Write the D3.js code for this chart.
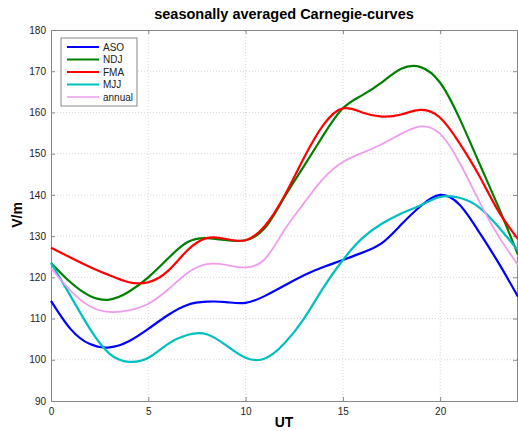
<!DOCTYPE html>
<html>
<head>
<meta charset="utf-8">
<script src="https://cdn.jsdelivr.net/npm/d3@7"></script>
<style>
  body { margin: 0; background: #fff; }
  text { font-family: Arial, "Liberation Sans", Helvetica, sans-serif; }
</style>
</head>
<body>
<div id="chart"></div>
<script>
// hours (UT) at which the curves were read
var hours = d3.range(0, 25);

var aso = [114.3, 107.5, 103.8, 103, 104.5, 107.5, 110.8, 113.3, 114.1, 114, 113.8, 115.5, 118,
           120.5, 122.5, 124.2, 126, 128.3, 132.8, 137.3, 140, 137.6, 131, 123.5, 115.3];
var ndj = [123.5, 118.8, 115.5, 114.6, 116.5, 120, 124.5, 128.5, 129.5, 129, 129, 132, 139.5,
           147, 154.5, 161, 164.2, 167.3, 170.6, 171, 167.2, 158.5, 147.8, 137, 125.5];
var fma = [127.2, 124.8, 122.5, 120.5, 118.8, 118.8, 121.5, 126.5, 129.5, 129.3, 129, 132.5, 139.8,
           149, 157, 161, 160, 159, 159.5, 160.6, 158.7, 152.5, 144.7, 136, 129.3];
var mjj = [123.5, 115.5, 107.5, 101.5, 99.5, 100.5, 103.8, 106, 106.2, 103.5, 100.5, 100.3, 104,
           110, 117.5, 124.2, 129.5, 133, 135.5, 137.5, 139.5, 139.3, 137, 132.2, 126.5];
var annual = [122.2, 116.8, 113, 111.6, 112, 113.6, 117, 121, 123.2, 123, 122.4, 124.5, 131.5,
              138, 144, 148, 150.2, 152.3, 154.8, 156.6, 154.8, 147.8, 138.5, 130, 123];

var seriesNames = ["ASO", "NDJ", "FMA", "MJJ", "annual"];
var seriesValues = [aso, ndj, fma, mjj, annual];
var seriesColors = ["#0000ff", "#008000", "#ff0000", "#00bfbf", "#ee9cee"];

var xTicks = [0, 5, 10, 15, 20];
var yTicks = [90, 100, 110, 120, 130, 140, 150, 160, 170, 180];

var W = 518, H = 431;
var margin = {top: 30, right: 0, bottom: 30, left: 51};

var svg = d3.select("#chart").append("svg")
    .attr("width", W)
    .attr("height", H);

var x = d3.scaleLinear().domain([0, 24]).range([margin.left, W - margin.right]);
var y = d3.scaleLinear().domain([90, 180]).range([H - margin.bottom, margin.top]);

// grid
var grid = svg.append("g");
grid.selectAll(".gx").data(xTicks.slice(1)).enter().append("line")
    .attr("x1", function(d) { return x(d); }).attr("x2", function(d) { return x(d); })
    .attr("y1", y(90)).attr("y2", y(180))
    .attr("stroke", "#d8d8d8").attr("stroke-width", 1).attr("stroke-dasharray", "1,2");
grid.selectAll(".gy").data(yTicks.slice(1, -1)).enter().append("line")
    .attr("y1", function(d) { return y(d); }).attr("y2", function(d) { return y(d); })
    .attr("x1", x(0)).attr("x2", x(24))
    .attr("stroke", "#d8d8d8").attr("stroke-width", 1).attr("stroke-dasharray", "1,2");

// axes, matlab style (ticks inside)
var xAxis = svg.append("g")
    .attr("transform", "translate(0," + y(90) + ")")
    .call(d3.axisBottom(x).tickValues(xTicks).tickSize(-4).tickPadding(7));
var xAxisTop = svg.append("g")
    .attr("transform", "translate(0," + y(180) + ")")
    .call(d3.axisTop(x).tickValues(xTicks).tickSize(-4).tickFormat(""));
var yAxis = svg.append("g")
    .attr("transform", "translate(" + x(0) + ",0)")
    .call(d3.axisLeft(y).tickValues(yTicks).tickSize(-4).tickPadding(5));
var yAxisRight = svg.append("g")
    .attr("transform", "translate(" + (x(24) - 1) + ",0)")
    .call(d3.axisRight(y).tickValues(yTicks).tickSize(-4).tickFormat(""));

[xAxis, xAxisTop, yAxis, yAxisRight].forEach(function(a) {
  a.selectAll("path").attr("stroke", "#888");
  a.selectAll("line").attr("stroke", "#888");
  a.selectAll("text").attr("fill", "#222").style("font-size", "10px");
});

// curves
var line = d3.line()
    .x(function(d, i) { return x(hours[i]); })
    .y(function(d) { return y(d); })
    .curve(d3.curveNatural);

svg.append("g").selectAll("path")
    .data(seriesValues)
    .enter().append("path")
      .attr("d", line)
      .attr("fill", "none")
      .attr("stroke", function(d, i) { return seriesColors[i]; })
      .attr("stroke-width", function(d, i) { return i == 4 ? 1.8 : 2.2; });

// legend
var lg = svg.append("g").attr("transform", "translate(61,38)");
lg.append("rect")
    .attr("width", 76).attr("height", 68)
    .attr("fill", "#fff").attr("stroke", "#888");
seriesNames.forEach(function(n, i) {
  var yy = 9 + i * 12.5;
  lg.append("line")
    .attr("x1", 6).attr("x2", 38).attr("y1", yy).attr("y2", yy)
    .attr("stroke", seriesColors[i]).attr("stroke-width", i == 4 ? 1.5 : 2);
  lg.append("text")
    .attr("x", 42).attr("y", yy + 3.5)
    .style("font-size", "10px").attr("fill", "#222")
    .text(n);
});

// titles
svg.append("text")
    .attr("x", 284).attr("y", 19)
    .attr("text-anchor", "middle")
    .style("font-size", "14.5px").style("font-weight", "bold")
    .text("seasonally averaged Carnegie-curves");
svg.append("text")
    .attr("x", 284).attr("y", 427)
    .attr("text-anchor", "middle")
    .style("font-size", "14px").style("font-weight", "bold")
    .text("UT");
svg.append("text")
    .attr("transform", "translate(22,215) rotate(-90)")
    .attr("text-anchor", "middle")
    .style("font-size", "14px").style("font-weight", "bold")
    .text("V/m");
</script>
</body>
</html>
